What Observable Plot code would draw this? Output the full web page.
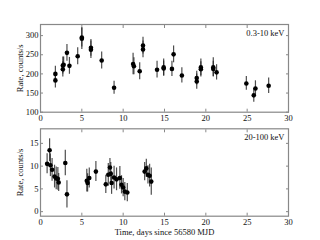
<!DOCTYPE html>
<html><head><meta charset="utf-8">
<script src="https://cdn.jsdelivr.net/npm/d3@7"></script>
<script src="https://cdn.jsdelivr.net/npm/@observablehq/plot@0.6"></script>
<style>
body{margin:0;background:#fff;}
#wrap{position:relative;width:320px;height:240px;overflow:hidden;background:#fff;}
#wrap svg{position:absolute;left:0;overflow:visible;}
</style></head>
<body><div id="wrap"></div>
<script>
// Top panel (0.3-10 keV)
const softTime = [1.8,1.8,2.7,2.7,2.8,3.2,3.5,4.5,5.0,5.0,6.1,6.1,7.4,8.9,11.2,11.3,12.0,12.4,12.4,14.1,14.9,14.9,15.9,16.1,17.1,18.9,18.9,19.4,19.4,20.9,20.9,21.3,24.9,25.8,26.0,27.6];
const softRate = [183,200,212,222,224,255,221,246,292,295,263,268,235,164,226,220,207,274,264,211,217,214,213,251,196,189,180,217,212,217,213,204,175,144,162,169];
const softErr  = [20,20,20,22,20,22,22,22,28,25,23,22,22,17,28,22,22,22,22,22,22,20,20,22,20,18,20,22,20,25,20,20,18,18,20,20];
// Bottom panel (20-100 keV)
const hardTime = [0.8,1.1,1.2,1.4,1.7,1.9,2.1,2.2,3.0,3.2,5.6,5.7,5.9,6.7,7.9,8.2,8.4,8.5,8.6,8.9,9.2,9.6,9.8,10.0,10.2,10.5,12.6,12.8,13.0,13.2,13.4];
const hardRate = [10.5,13.5,10.2,9.2,7.7,7.3,7.2,6.4,10.7,3.8,6.8,6.3,7.4,8.8,6.0,8.1,9.7,8.3,6.3,7.5,7.1,7.4,5.9,5.3,4.4,4.2,8.8,9.5,8.1,7.9,6.6];
const hardErr  = [2.2,2.5,2.5,2.5,2.5,2.5,2.5,2.0,2.8,3.0,2.5,2.0,2.2,2.2,2.0,2.5,2.0,2.5,2.5,2.5,2.5,2.5,2.0,2.0,2.0,2.0,2.0,2.0,2.0,2.5,3.0];
const xTicks = [0,5,10,15,20,25,30];
const softTicks = [100,150,200,250,300];
const hardTicks = [0,5,10,15];
const softLabel = "0.3-10 keV";
const hardLabel = "20-100 keV";
const yTitle = "Rate, counts/s";
const xTitle = "Time, days since 56580 MJD";

const font = "Liberation Serif, DejaVu Serif, serif";
const soft = softTime.map((t,i)=>({t, v: softRate[i], e: softErr[i]}));
const hard = hardTime.map((t,i)=>({t, v: hardRate[i], e: hardErr[i]}));

function panel(data, yDomain, yTicks, label, opts){
  return Plot.plot({
    width: 320, height: opts.height,
    marginLeft: 40, marginRight: 32, marginTop: opts.mt, marginBottom: opts.mb,
    style: {fontFamily: font, fontSize: "8.5px", color: "#111", background: "transparent", overflow: "visible"},
    x: {domain: [0,30]},
    y: {domain: yDomain},
    marks: [
      Plot.axisX({ticks: xTicks, tickSize: -3, tickPadding: 6, label: opts.xlabel ? xTitle : null, labelAnchor: "center", labelOffset: 19, labelArrow: "none", stroke: "#888"}),
      Plot.axisX({anchor: "top", ticks: xTicks, tickSize: -3, tickFormat: () => "", label: null, stroke: "#888"}),
      Plot.axisY({ticks: yTicks, tickSize: -3, tickPadding: 5, label: yTitle, labelAnchor: "center", labelOffset: 24, labelArrow: "none", stroke: "#888"}),
      Plot.axisY({anchor: "right", ticks: yTicks, tickSize: -3, tickFormat: () => "", label: null, stroke: "#888"}),
      Plot.frame({stroke: "#888", strokeWidth: 1.2}),
      Plot.ruleX(data, {x: "t", y1: d => d.v - d.e, y2: d => d.v + d.e, stroke: "#222", strokeWidth: 1.2, strokeOpacity: 0.8}),
      Plot.dot(data, {x: "t", y: "v", r: 2.3, fill: "#000", stroke: "none"}),
      Plot.text([label], {frameAnchor: "top-right", dx: -4, dy: 5, text: d => d, fontSize: 8.5, fill: "#111"})
    ]
  });
}
const wrap = document.getElementById("wrap");
const p1 = panel(soft, [100, 329], softTicks, softLabel, {height: 125, mt: 24, mb: 13.3, xlabel: false});
p1.style.top = "0px";
const p2 = panel(hard, [-1, 18.2], hardTicks, hardLabel, {height: 115, mt: 3.3, mb: 24.3, xlabel: true});
p2.style.top = "125px";
wrap.appendChild(p1);
wrap.appendChild(p2);
</script></body></html>
